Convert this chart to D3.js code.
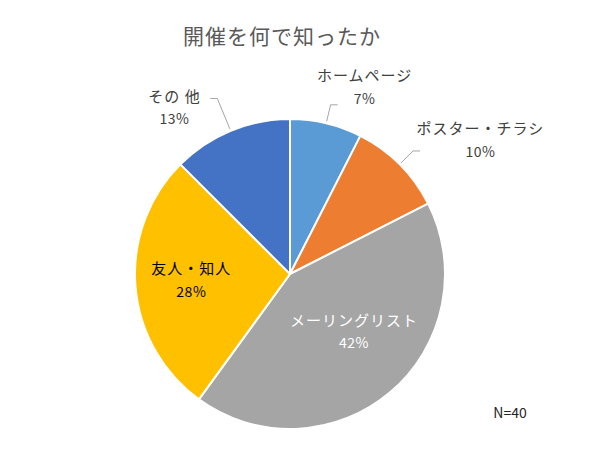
<!DOCTYPE html>
<meta charset="UTF-8">
<style>
body { margin: 0; background: #fff; }
svg text { font-family: "Noto Sans CJK JP", "Noto Sans", sans-serif; }
.title { font-size: 21px; fill: #595959; letter-spacing: 1px; }
.lbl { font-size: 15px; letter-spacing: 1px; }
.pct { font-size: 14px; font-weight: 400; letter-spacing: 0.5px; }
.leader { fill: none; stroke: #a6a6a6; stroke-width: 1px; }
</style>
<body>
<script src="https://d3js.org/d3.v7.min.js"></script>
<script>
// answers (counts, N=40)
var categories = ["ホームページ", "ポスター・チラシ", "メーリングリスト", "友人・知人", "その 他"];
var counts = [3, 4, 17, 11, 5];
var pctLabels = ["7%", "10%", "42%", "28%", "13%"];
var colors = ["#5b9bd5", "#ed7d31", "#a5a5a5", "#ffc000", "#4472c4"];

var width = 612, height = 450;
var cx = 290, cy = 274, radius = 155;

var svg = d3.select("body").append("svg")
    .attr("width", width)
    .attr("height", height);

svg.append("text")
    .attr("class", "title")
    .attr("x", 282)
    .attr("y", 35)
    .attr("text-anchor", "middle")
    .attr("dominant-baseline", "central")
    .text("開催を何で知ったか");

var data = categories.map(function(c, i) {
  return {name: c, value: counts[i], pct: pctLabels[i], color: colors[i]};
});

var pie = d3.pie().sort(null).value(function(d) { return d.value; });
var arc = d3.arc().innerRadius(0).outerRadius(radius);
var arcs = pie(data);

var g = svg.append("g").attr("transform", "translate(" + cx + "," + cy + ")");

g.selectAll("path.slice")
  .data(arcs)
  .enter().append("path")
    .attr("class", "slice")
    .attr("d", arc)
    .attr("fill", function(d) { return d.data.color; })
    .attr("stroke", "#fff")
    .attr("stroke-width", 2)
    .attr("stroke-linejoin", "round");

// label placement: inside (r=100) or outside (r=200), plus small nudges
var labelLayout = [
  {inside: false, nudge: [28, 7]},
  {inside: false, nudge: [49, 7]},
  {inside: true, nudge: [-1, -19], fill: "#ffffff"},
  {inside: true, nudge: [1, -2], fill: "#000000"},
  {inside: false, nudge: [-39, 18]}
];

function polar(a, r) { return [r * Math.sin(a), -r * Math.cos(a)]; }

arcs.forEach(function(d, i) {
  var lay = labelLayout[i];
  var mid = (d.startAngle + d.endAngle) / 2;
  var p = polar(mid, lay.inside ? 100 : 200);
  var x = p[0] + lay.nudge[0], y = p[1] + lay.nudge[1];
  var fill = lay.fill || "#404040";

  if (!lay.inside) {
    var s = polar(mid, radius + 2);
    var e = polar(mid, i === 4 ? 190 : 174);
    var dir = Math.sin(mid) >= 0 ? 1 : -1;
    var line = d3.line();
    g.append("path")
      .attr("class", "leader")
      .attr("d", line([s, e, [e[0] + dir * 7, e[1]]]));
  }

  g.append("text")
    .attr("class", "lbl")
    .attr("x", x).attr("y", y - 12)
    .attr("text-anchor", "middle")
    .attr("dominant-baseline", "central")
    .attr("fill", fill)
    .text(d.data.name);

  g.append("text")
    .attr("class", "pct")
    .attr("x", x).attr("y", y + 11)
    .attr("text-anchor", "middle")
    .attr("dominant-baseline", "central")
    .attr("fill", fill)
    .text(d.data.pct);
});

svg.append("text")
    .attr("x", 510)
    .attr("y", 412)
    .attr("text-anchor", "middle")
    .attr("dominant-baseline", "central")
    .attr("fill", "#262626")
    .style("font-size", "14px")
    .text("N=" + d3.sum(counts));
</script>
</body>
